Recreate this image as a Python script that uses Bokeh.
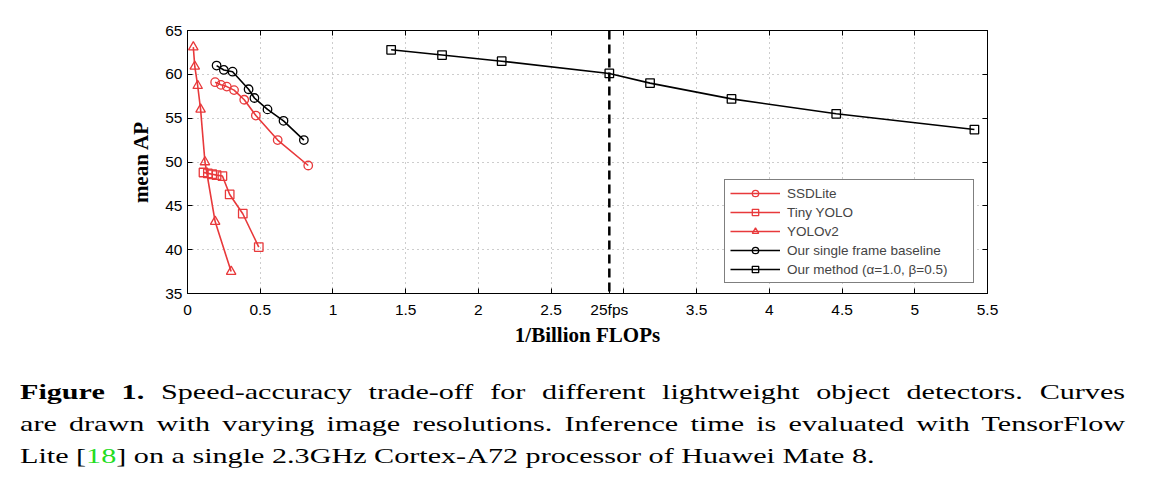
from bokeh.plotting import figure
from bokeh.models import (Range1d, FixedTicker, LinearAxis, Span, Legend, LegendItem, Div)
from bokeh.layouts import column
from bokeh.embed import file_html
from bokeh.resources import INLINE

# ---- data ----
ssd_x = [0.19, 0.23, 0.27, 0.32, 0.39, 0.47, 0.62, 0.83]
ssd_y = [59.1, 58.8, 58.6, 58.2, 57.1, 55.3, 52.5, 49.6]
tiny_x = [0.11, 0.14, 0.17, 0.20, 0.24, 0.29, 0.38, 0.49]
tiny_y = [48.8, 48.7, 48.6, 48.5, 48.4, 46.3, 44.1, 40.3]
yolo_x = [0.04, 0.05, 0.07, 0.09, 0.12, 0.19, 0.30]
yolo_y = [63.1, 60.9, 58.7, 56.0, 50.0, 43.2, 37.5]
base_x = [0.20, 0.25, 0.31, 0.42, 0.46, 0.55, 0.66, 0.80]
base_y = [61.0, 60.5, 60.3, 58.3, 57.3, 56.0, 54.7, 52.5]
ours_x = [1.40, 1.75, 2.16, 2.90, 3.18, 3.74, 4.46, 5.41]
ours_y = [62.8, 62.2, 61.5, 60.1, 59.0, 57.2, 55.5, 53.7]

fps_line = 2.9
x_ticks = [0, 0.5, 1, 1.5, 2, 2.5, 2.9, 3, 3.5, 4, 4.5, 5, 5.5]
x_tick_overrides = {2.9: "25fps", 3: ""}
y_ticks = [35, 40, 45, 50, 55, 60, 65]

series = [
    ("SSDLite", ssd_x, ssd_y, "circle", "#e8393b"),
    ("Tiny YOLO", tiny_x, tiny_y, "square", "#e8393b"),
    ("YOLOv2", yolo_x, yolo_y, "triangle", "#e8393b"),
    ("Our single frame baseline", base_x, base_y, "circle", "black"),
    ("Our method (\u03b1=1.0, \u03b2=0.5)", ours_x, ours_y, "square", "black"),
]

p = figure(width=1167, height=376, x_range=Range1d(0, 5.5), y_range=Range1d(35, 65),
           output_backend="svg", toolbar_location=None,
           min_border_left=187, min_border_right=180, min_border_top=30, min_border_bottom=83)
p.background_fill_color = "white"
p.border_fill_color = "white"
p.outline_line_color = "black"
p.outline_line_width = 1

for ax in (p.xaxis[0], p.yaxis[0]):
    ax.major_tick_in = 5
    ax.major_tick_out = 0
    ax.minor_tick_line_color = None
    ax.axis_line_color = "black"
    ax.major_label_text_font = "Liberation Sans"
    ax.major_label_text_font_size = "15.5px"
    ax.major_label_text_color = "black"
    ax.axis_label_text_font = "Liberation Serif"
    ax.axis_label_text_font_style = "bold"
    ax.axis_label_text_font_size = "21px"
    ax.axis_label_text_color = "black"

p.xaxis[0].ticker = FixedTicker(ticks=x_ticks)
p.xaxis[0].major_label_overrides = x_tick_overrides
p.xaxis[0].major_label_standoff = 7
p.xaxis[0].axis_label = "1/Billion FLOPs"
p.xaxis[0].axis_label_standoff = 2
p.yaxis[0].ticker = FixedTicker(ticks=y_ticks)
p.yaxis[0].major_label_standoff = 5
p.yaxis[0].axis_label = "mean AP"
p.yaxis[0].axis_label_standoff = 9

top = LinearAxis(ticker=FixedTicker(ticks=x_ticks), major_tick_in=5, major_tick_out=0,
                 minor_tick_line_color=None, major_label_standoff=0,
                 major_label_overrides={t: "" for t in x_ticks})
right = LinearAxis(ticker=FixedTicker(ticks=y_ticks), major_tick_in=5, major_tick_out=0,
                   minor_tick_line_color=None, major_label_standoff=0,
                   major_label_overrides={t: "" for t in y_ticks})
p.add_layout(top, "above")
p.add_layout(right, "right")

p.xgrid.ticker = FixedTicker(ticks=[t for t in x_ticks if t != fps_line])
p.ygrid.ticker = FixedTicker(ticks=y_ticks)
for g in (p.xgrid[0], p.ygrid[0]):
    g.grid_line_color = "#9a9a9a"
    g.grid_line_dash = "1 4"
    g.grid_line_width = 1

p.add_layout(Span(location=fps_line, dimension="height", line_color="black",
                  line_width=2.5, line_dash="9 5"))

items = []
for name, xs, ys, marker, color in series:
    r1 = p.line(xs, ys, line_color=color, line_width=1.6)
    r2 = p.scatter(xs, ys, marker=marker, size=8.5 if marker != "triangle" else 9.5,
                   line_color=color, fill_color=None, line_width=1.3)
    items.append(LegendItem(label=name, renderers=[r1, r2]))

legend = Legend(items=items, location=(537, 10), border_line_color="black",
                border_line_width=1, background_fill_color="white", background_fill_alpha=1,
                label_text_font="Liberation Sans", label_text_font_size="13.5px",
                glyph_width=50, glyph_height=16, label_height=16, label_width=181,
                spacing=3, padding=5, margin=0, label_standoff=7)
p.add_layout(legend, "center")

sx = 1.37
inner_w = 1105 / sx
caption_html = (
    f"<div style=\"margin-left:15px;margin-top:-5px;width:{inner_w:.1f}px;"
    f"transform:scaleX({sx});transform-origin:0 0;"
    "font-family:'Liberation Serif',serif;font-size:22px;line-height:32px;color:black;\">"
    "<div style='white-space:nowrap;text-align:justify;text-align-last:justify;'><b>Figure&nbsp;1.</b> "
    "Speed-accuracy trade-off for different lightweight object detectors. Curves</div>"
    "<div style='white-space:nowrap;text-align:justify;text-align-last:justify;'>are drawn with varying image "
    "resolutions. Inference time is evaluated with TensorFlow</div>"
    "<div style='white-space:nowrap;'>Lite [<span style='color:#22dd22'>18</span>] on a single 2.3GHz Cortex-A72 "
    "processor of Huawei Mate 8.</div>"
    "</div>"
)
cap = Div(text=caption_html, width=1167, height=108)

layout = column(p, cap, spacing=0)
open("out.html", "w").write(file_html(layout, INLINE))
